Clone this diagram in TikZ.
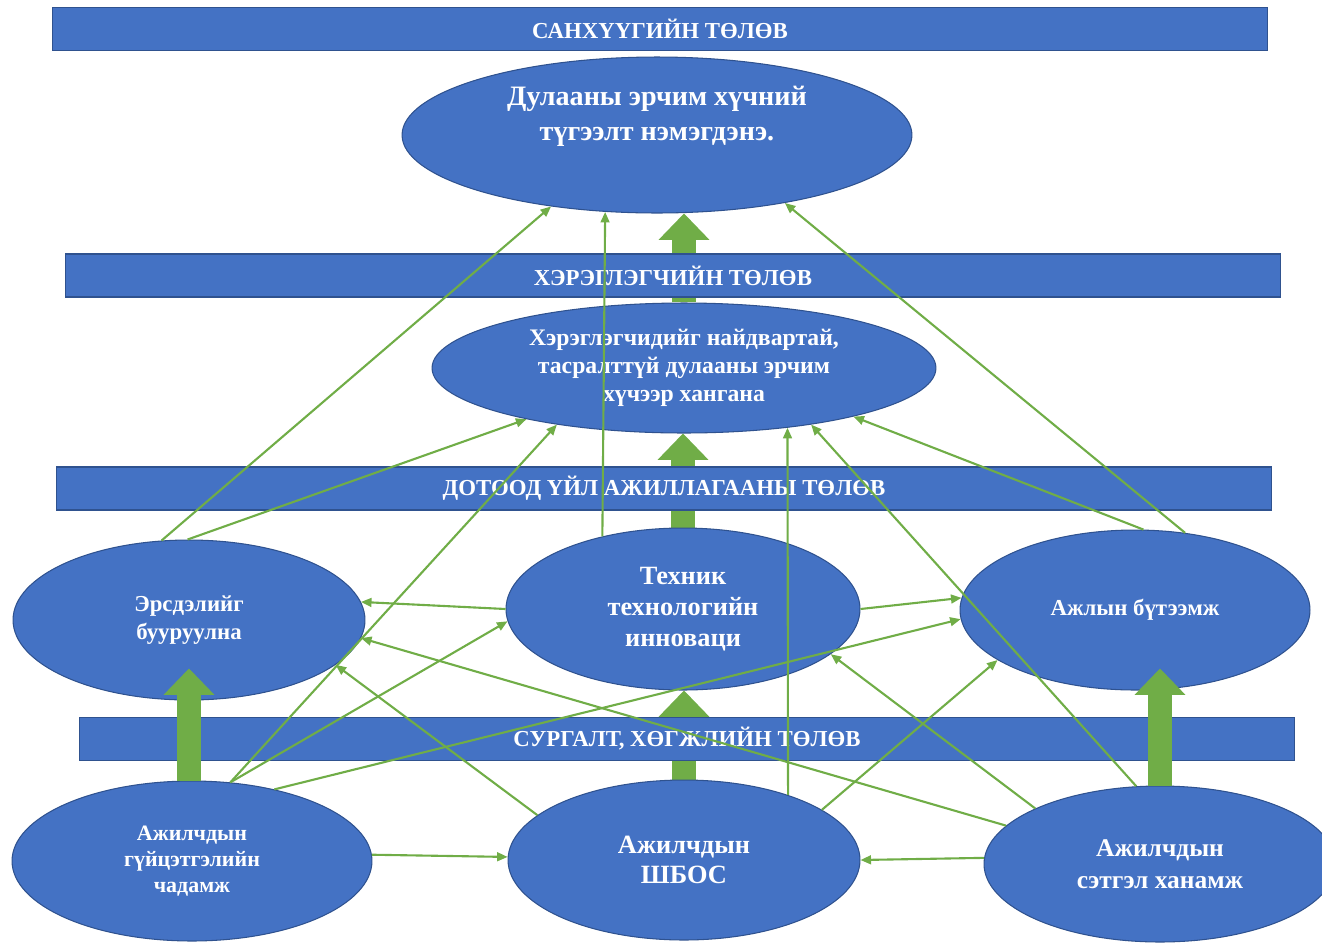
\documentclass[tikz,border=0pt]{standalone}
\usepackage{fontspec}
\setmainfont{Liberation Serif}
\usepackage{xcolor}
\usetikzlibrary{positioning,calc,arrows.meta,shapes.geometric}
\definecolor{blu}{RGB}{68,114,196}
\definecolor{bludark}{RGB}{47,82,143}
\definecolor{grn}{RGB}{112,173,71}
\pgfdeclarelayer{back}
\pgfsetlayers{back,main}

\begin{document}
\begin{tikzpicture}[x=0.02cm,y=-0.02cm,
		bar/.style={draw=bludark,fill=blu,line width=0.6pt,minimum width=24.32cm,minimum height=0.86cm,inner sep=0pt,text=white,font=\bfseries\fontsize{13}{15}\selectfont},
		oval/.style={ellipse,draw=bludark,fill=blu,line width=0.6pt,inner sep=0pt,text=white,align=center},
		arr/.style={draw=grn,line width=1.2pt,-{Triangle[length=6pt,width=5pt]}},
		big/.style={draw=grn,line width=14pt,-{Triangle[length=15pt,width=29pt,line width=0pt]}}]
			\useasboundingbox (0,0) rectangle (1322,944);
			
			\node[bar] (fin) at (660,29) {САНХҮҮГИЙН ТӨЛӨВ};
			\node[bar] (cus) at (673,275.5) {ХЭРЭГЛЭГЧИЙН ТӨЛӨВ};
			\node[bar] (proc) at (664,488.5) {ДОТООД ҮЙЛ АЖИЛЛАГААНЫ ТӨЛӨВ};
			\node[bar] (learn) at (687,739) {СУРГАЛТ, ХӨГЖЛИЙН ТӨЛӨВ};
			
			\node[oval,minimum width=10.2cm,minimum height=3.12cm] (top) at (657,135) {};
			\node[text=white,align=center,font=\bfseries\fontsize{16}{20}\selectfont] (toptext) at (657,116) {Дулааны эрчим хүчний\\түгээлт нэмэгдэнэ.};
			\node[oval,minimum width=10.08cm,minimum height=2.6cm,font=\bfseries\fontsize{13.5}{16}\selectfont] (cust) at (684,368) {Хэрэглэгчидийг найдвартай,\\тасралттүй дулааны эрчим\\хүчээр хангана};
			\node[oval,minimum width=7.04cm,minimum height=3.2cm,font=\bfseries\fontsize{13}{15.5}\selectfont] (risk) at (189,620) {Эрсдэлийг\\бууруулна};
			\node[oval,minimum width=7.08cm,minimum height=3.24cm,font=\bfseries\fontsize{15}{17.5}\selectfont] (tech) at (683,609) {Техник\\технологийн\\инноваци};
			\node[oval,minimum width=7cm,minimum height=3.2cm,font=\bfseries\fontsize{13}{15}\selectfont] (prod) at (1135,610) {Ажлын бүтээмж};
			\node[oval,minimum width=7.2cm,minimum height=3.2cm,font=\bfseries\fontsize{12.5}{15}\selectfont] (skill) at (192,861) {Ажилчдын\\гүйцэтгэлийн\\чадамж};
			\node[oval,minimum width=7.04cm,minimum height=3.2cm,font=\bfseries\fontsize{15}{17}\selectfont] (sbos) at (684,860) {Ажилчдын\\ШБОС};
			\node[oval,minimum width=7.04cm,minimum height=3.12cm,font=\bfseries\fontsize{14.5}{18}\selectfont] (satis) at (1160,864) {Ажилчдын\\сэтгэл ханамж};
			
			\begin{pgfonlayer}{back}
				\draw[big] (cust.north) -- (cust.north |- top.south);
				\draw[big] (tech.north) -- (tech.north |- cust.south);
				\draw[big] (sbos.north) -- (sbos.north |- tech.south);
			\end{pgfonlayer}
			\draw[big] (risk.south |- skill.north) -- ($(risk.south)+(0,-32)$);
			\draw[big] (satis.north) -- ($(satis.north |- prod.south)+(0,-22)$);
			
			\draw[arr] (risk.109) -- (top.214);
			\draw[arr] (risk.91) -- (cust.198);
			\draw[arr] (tech.138) -- (top.236);
			\draw[arr] (prod.57) -- (top.332);
			\draw[arr] (prod.84) -- (cust.344);
			\draw[arr] (skill.64) -- (cust.204);
			\draw[arr] (skill.64) -- (tech.184);
			\draw[arr] (skill.41) -- (prod.183);
			\draw[arr] (skill.2) -- (sbos.179);
			\draw[arr] (tech.west) -- (risk.6);
			\draw[arr] (tech.east) -- (prod.176);
			\draw[arr] (sbos.163) -- (risk.343);
			\draw[arr] (sbos.32) -- (cust.330);
			\draw[arr] (sbos.20) -- (prod.200);
			\draw[arr] (satis.166) -- (risk.354);
			\draw[arr] (satis.156) -- (tech.343);
			\draw[arr] (satis.107) -- (cust.336);
			\draw[arr] (satis.178) -- (sbos.east);
		\end{tikzpicture}
\end{document}
